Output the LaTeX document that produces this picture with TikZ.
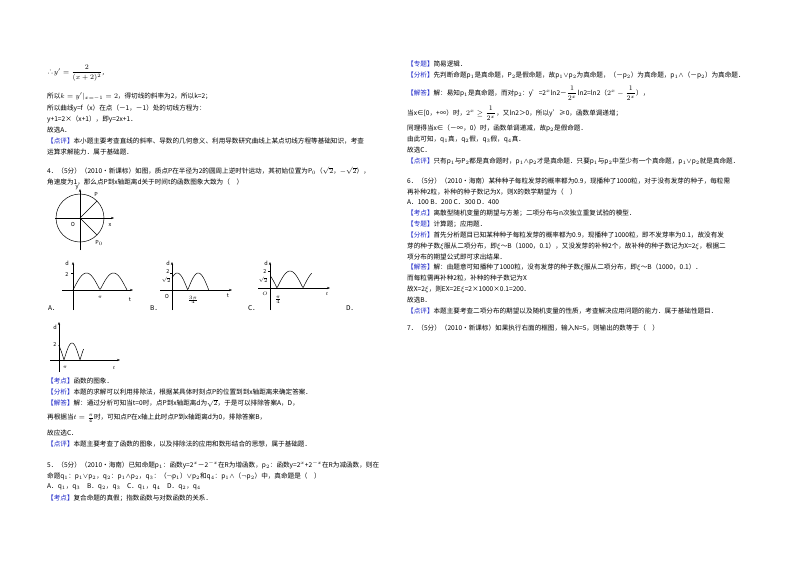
\documentclass[tikz,border=0pt]{standalone}
\usepackage{amsmath}
\usepackage{fontspec}
\setmainfont{Noto Sans CJK SC}
\usetikzlibrary{arrows.meta}
\definecolor{tagblue}{RGB}{30,40,200}
\newcommand\tg[1]{\textcolor{tagblue}{【#1】}}
\tikzset{ln/.style={anchor=west,inner sep=0pt,font=\fontsize{6.6}{8}\selectfont},
 ax/.style={-{Stealth[length=3pt]},line width=0.5pt},
 cv/.style={line width=0.5pt},
 sm/.style={inner sep=0pt,font=\fontsize{5.5}{6}\selectfont}}
\begin{document}
\begin{tikzpicture}[x=1pt,y=-1pt]
\useasboundingbox[fill=white] (0,0) rectangle (800,566);
% left column
\node[ln] (l0) at (47,73) {∴$y'=\dfrac{2}{(x+2)^{2}}$,};
\node[ln] (l1) at (47,97) {所以$k=y'|_{x=-1}=2$，得切线的斜率为2，所以k=2；};
\node[ln] (l2) at (47,108) {所以曲线y=f（x）在点（－1，－1）处的切线方程为：};
\node[ln] (l3) at (47,119) {y+1=2×（x+1），即y=2x+1．};
\node[ln] (l4) at (47,130) {故选A．};
\node[ln] (l5) at (47,141) {\tg{点评}本小题主要考查直线的斜率、导数的几何意义、利用导数研究曲线上某点切线方程等基础知识，考查};
\node[ln] (l6) at (47,152) {运算求解能力．属于基础题．};
\node[ln] (l7) at (47,171) {4．（5分）（2010•新课标）如图，质点P在半径为2的圆周上逆时针运动，其初始位置为P$_0$（$\sqrt2$，$-\sqrt2$），};
\node[ln] (l8) at (47,182) {角速度为1，那么点P到x轴距离d关于时间t的函数图象大致为（\quad ）};
% circle
\coordinate (O) at (80,218);
\draw[cv] (O) circle (24);
\draw[ax] (80,250) -- (80,189);
\draw[ax] (55,218) -- (114,218);
\draw[cv] (O) -- (97,201);
\draw[cv] (O) -- (97,235);
\node[sm] (P) at (96,194) {P};
\node[sm] (P0) at (99,243) {P$_0$};
\node[sm] (Ol) at (73,224) {O};
\node[sm] (xl) at (110,225) {x};
\node[sm] (yl) at (77,188) {y};
% graph A
\draw[ax] (73,310) -- (73,262);
\draw[ax] (62,290) -- (133,290);
\draw[cv] plot[domain=0:360,samples=60] ({73+\x*0.15},{290-17*abs(sin(\x))});
\draw[cv] (71,273) -- (73,273);
\node[sm] at (67,263) {d}; \node[sm] at (67,274) {2};
\node[sm] at (100,297) {$\pi$}; \node[sm] at (130,300) {t};
\node[ln] at (48,308) {A．};
% graph B
\draw[ax] (172,310) -- (172,262);
\draw[ax] (160,290) -- (232,290);
\draw[cv] plot[domain=-45:270,samples=60] ({172+(\x+45)*0.1167},{290-17*abs(sin(\x+90))});
\draw[cv] (170,273) -- (172,273);
\node[sm] at (168,263) {d}; \node[sm] at (168,271) {2}; \node[sm] at (166,280) {$\sqrt2$};
\node[sm] at (167,296) {O}; \node[sm] at (193,300) {$\frac{3\pi}{4}$}; \node[sm] at (228,296) {t};
\node[ln] at (150,308) {B．};
% graph C
\draw[ax] (270,310) -- (270,262);
\draw[ax] (258,288) -- (330,288);
\draw[cv] plot[domain=-45:240,samples=60] ({277+\x*0.1444},{288-17*abs(sin(\x))});
\draw[cv] (268,271) -- (270,271);
\node[sm] at (266,263) {d}; \node[sm] at (265,271) {2}; \node[sm] at (263,280) {$\sqrt2$};
\node[sm] at (265,294) {$O$}; \node[sm] at (278,300) {$\frac{\pi}{4}$}; \node[sm] at (327,294) {$t$};
\node[ln] at (248,308) {C．};
\node[ln] at (346,308) {D．};
% graph D
\draw[ax] (59,372) -- (59,322);
\draw[ax] (50,360) -- (120,360);
\draw[cv] plot[domain=-60:220,samples=80] ({64+\x*0.0889},{360-17*abs(sin(\x))});
\node[sm] at (55,327) {d}; \node[sm] at (55,344) {2};
\node[sm] at (65,367) {$\pi$}; \node[sm] at (114,368) {$t$};
% text
\node[ln] at (47,381) {\tg{考点}函数的图象．};
\node[ln] at (47,392) {\tg{分析}本题的求解可以利用排除法，根据某具体时刻点P的位置到到x轴距离来确定答案．};
\node[ln] at (47,403) {\tg{解答}解：通过分析可知当t=0时，点P到x轴距离d为$\sqrt2$，于是可以排除答案A，D，};
\node[ln] at (47,418) {再根据当$t=\frac{\pi}{4}$时，可知点P在x轴上此时点P到x轴距离d为0，排除答案B，};
\node[ln] at (47,433) {故应选C．};
\node[ln] at (47,444) {\tg{点评}本题主要考查了函数的图象，以及排除法的应用和数形结合的思想，属于基础题．};
\node[ln] at (47,465) {5．（5分）（2010•海南）已知命题p$_1$：函数y=2$^x$－2$^{-x}$在R为增函数，p$_2$：函数y=2$^x$+2$^{-x}$在R为减函数，则在};
\node[ln] at (47,476) {命题q$_1$：p$_1\vee$p$_2$，q$_2$：p$_1\wedge$p$_2$，q$_3$：（$\neg$p$_1$）$\vee$p$_2$和q$_4$：p$_1\wedge$（$\neg$p$_2$）中，真命题是（\quad ）};
\node[ln] at (47,487) {A．q$_1$，q$_3$\quad B．q$_2$，q$_3$\quad C．q$_1$，q$_4$\quad D．q$_2$，q$_4$};
\node[ln] at (47,498) {\tg{考点}复合命题的真假；指数函数与对数函数的关系．};
% right column
\node[ln] at (407,64) {\tg{专题}简易逻辑．};
\node[ln] at (407,75) {\tg{分析}先判断命题p$_1$是真命题，P$_2$是假命题，故p$_1\vee$p$_2$为真命题，（－p$_2$）为真命题，p$_1\wedge$（－p$_2$）为真命题．};
\node[ln] at (407,93) {\tg{解答}解：易知p$_1$是真命题，而对p$_2$：y'=2$^x$ln2－$\dfrac{1}{2^x}$ln2=ln2（$2^x-\dfrac{1}{2^x}$），};
\node[ln] at (407,113) {当x∈[0，+∞）时，$2^x\geq\dfrac{1}{2^x}$，又ln2＞0，所以y'≥0，函数单调递增；};
\node[ln] at (407,128) {同理得当x∈（－∞，0）时，函数单调递减，故p$_2$是假命题．};
\node[ln] at (407,139) {由此可知，q$_1$真，q$_2$假，q$_3$假，q$_4$真．};
\node[ln] at (407,150) {故选C．};
\node[ln] at (407,161) {\tg{点评}只有p$_1$与P$_2$都是真命题时，p$_1\wedge$p$_2$才是真命题．只要p$_1$与p$_2$中至少有一个真命题，p$_1\vee$p$_2$就是真命题．};
\node[ln] at (407,181) {6．（5分）（2010•海南）某种种子每粒发芽的概率都为0.9，现播种了1000粒，对于没有发芽的种子，每粒需};
\node[ln] at (407,192) {再补种2粒，补种的种子数记为X，则X的数学期望为（\quad ）};
\node[ln] at (407,202) {A．100\ B．200\ C．300\ D．400};
\node[ln] at (407,213) {\tg{考点}离散型随机变量的期望与方差；二项分布与n次独立重复试验的模型．};
\node[ln] at (407,224) {\tg{专题}计算题；应用题．};
\node[ln] at (407,235) {\tg{分析}首先分析题目已知某种种子每粒发芽的概率都为0.9，现播种了1000粒，即不发芽率为0.1，故没有发};
\node[ln] at (407,246) {芽的种子数$\xi$服从二项分布，即$\xi$～B（1000，0.1），又没发芽的补种2个，故补种的种子数记为X=2$\xi$，根据二};
\node[ln] at (407,257) {项分布的期望公式即可求出结果．};
\node[ln] at (407,267) {\tg{解答}解：由题意可知播种了1000粒，没有发芽的种子数$\xi$服从二项分布，即$\xi$～B（1000，0.1）．};
\node[ln] at (407,278) {而每粒需再补种2粒，补种的种子数记为X};
\node[ln] at (407,289) {故X=2$\xi$，则EX=2E$\xi$=2×1000×0.1=200．};
\node[ln] at (407,300) {故选B．};
\node[ln] at (407,311) {\tg{点评}本题主要考查二项分布的期望以及随机变量的性质，考查解决应用问题的能力．属于基础性题目．};
\node[ln] at (407,328) {7．（5分）（2010•新课标）如果执行右面的框图，输入N=5，则输出的数等于（\quad ）};
\end{tikzpicture}
\end{document}
